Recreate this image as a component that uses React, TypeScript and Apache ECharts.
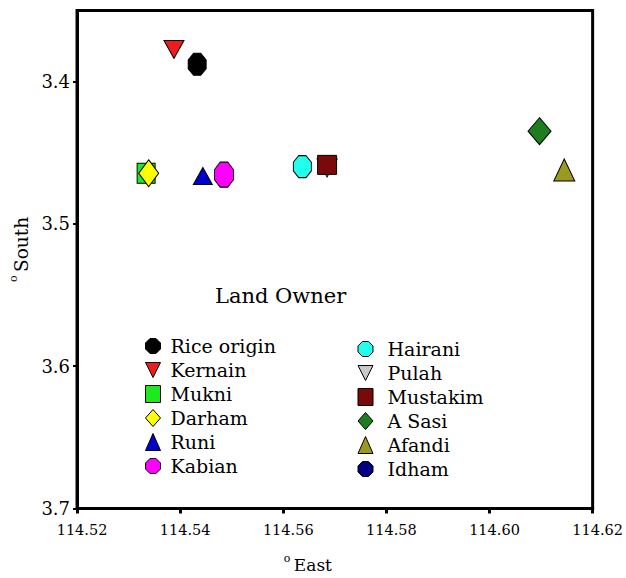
import React, { useEffect, useRef } from 'react';
import * as echarts from 'echarts';

const owners = ['Rice origin', 'Kernain', 'Mukni', 'Darham', 'Runi', 'Kabian', 'Hairani', 'Pulah', 'Mustakim', 'A Sasi', 'Afandi', 'Idham'];
const eastValues = [114.5433, 114.5388, 114.5334, 114.5339, 114.5444, 114.5485, 114.5637, 114.5685, 114.5685, 114.6097, 114.6145, 114.5433];
const southValues = [3.3878, 3.3774, 3.4644, 3.4644, 3.4663, 3.4654, 3.4597, 3.4606, 3.4585, 3.4348, 3.4621, 3.3878];
const xTicks = [114.52, 114.54, 114.56, 114.58, 114.60, 114.62];
const yTicks = [3.4, 3.5, 3.6, 3.7];

const OCT = 'path://M3,0L7,0L10,3L10,7L7,10L3,10L0,7L0,3Z';
const DOWN = 'path://M0,0L10,0L5,10Z';
const symbols = [OCT, DOWN, 'rect', 'diamond', 'triangle', OCT, OCT, DOWN, 'rect', 'diamond', 'triangle', OCT];
const sizes = [[18, 22], [20, 18], [18, 20], [20, 27], [19, 17], [19, 25], [18, 22], [20, 18], [19, 19], [23, 27], [21, 22], [16, 20]];
const colors = ['#000000', '#ee1c1c', '#1fe81f', '#ffff00', '#0000cc', '#ff00ff', '#22ffee', '#c8c8c8', '#7a0a0a', '#1e7d1e', '#9a9a20', '#000080'];

const FONT = 'DejaVu Serif';

export default function App() {
  const ref = useRef<HTMLDivElement>(null);
  useEffect(() => {
    document.body.style.margin = '0';
    if (!ref.current) return;
    const chart = echarts.init(ref.current, undefined, { renderer: 'svg' });
    const legendBase = {
      orient: 'vertical' as const,
      itemWidth: 15,
      itemHeight: 17,
      itemGap: 0,
      padding: 0,
      selectedMode: false,
      itemStyle: { borderColor: '#000', borderWidth: 1 },
    };
    chart.setOption({
      animation: false,
      backgroundColor: '#fff',
      textStyle: { fontFamily: FONT },
      title: {
        text: 'Land Owner',
        left: 215,
        top: 281,
        padding: 0,
        textStyle: { fontFamily: FONT, fontSize: 21, fontWeight: 'normal', color: '#000', lineHeight: 30 },
      },
      grid: {
        left: 67.5, right: 23, top: 10.5, bottom: 67,
        show: true, borderColor: '#000', borderWidth: 3, backgroundColor: 'transparent',
      },
      xAxis: {
        type: 'value',
        min: 114.52,
        max: 114.62,
        name: '{s|o }{n|East}',
        nameLocation: 'middle',
        nameGap: 44,
        nameTextStyle: {
          fontFamily: FONT,
          padding: [0, 54, 0, 0],
          rich: {
            s: { fontFamily: FONT, fontSize: 11, lineHeight: 12, verticalAlign: 'top', color: '#000' },
            n: { fontFamily: FONT, fontSize: 17, lineHeight: 24, color: '#000' },
          },
        },
        axisLine: { show: true, lineStyle: { color: '#000', width: 3 } },
        axisTick: { show: true, customValues: xTicks, length: 5, lineStyle: { color: '#000', width: 3 } },
        axisLabel: {
          customValues: xTicks,
          formatter: (v: number) => v.toFixed(2),
          fontFamily: FONT, fontSize: 14.5, color: '#000', margin: 14,
          padding: [0, 0, 0, 10],
        },
        splitLine: { show: false },
      },
      yAxis: {
        type: 'value',
        inverse: true,
        min: 3.35,
        max: 3.7,
        name: '{s|o }{n|South}',
        nameLocation: 'middle',
        nameGap: 37,
        nameRotate: 90,
        nameTextStyle: {
          fontFamily: FONT,
          padding: [0, 0, 0, 20],
          rich: {
            s: { fontFamily: FONT, fontSize: 11, lineHeight: 12, verticalAlign: 'top', color: '#000' },
            n: { fontFamily: FONT, fontSize: 18.5, lineHeight: 26, color: '#000' },
          },
        },
        axisLine: { show: true, lineStyle: { color: '#000', width: 3 } },
        axisTick: { show: true, customValues: yTicks, length: 4, lineStyle: { color: '#000', width: 2 } },
        axisLabel: {
          customValues: yTicks,
          formatter: (v: number) => v.toFixed(1),
          fontFamily: FONT, fontSize: 18, lineHeight: 22, color: '#000', margin: 7,
          padding: [0, 0, 10, 0],
        },
        splitLine: { show: false },
      },
      legend: [
        {
          ...legendBase,
          data: owners.slice(0, 6),
          left: 145,
          top: 334,
          textStyle: { fontFamily: FONT, fontSize: 19, lineHeight: 24, color: '#000', padding: [0, 0, 0, 5] },
        },
        {
          ...legendBase,
          data: owners.slice(6),
          left: 357.5,
          top: 337,
          textStyle: { fontFamily: FONT, fontSize: 19, lineHeight: 24, color: '#000', padding: [0, 0, 0, 9.5] },
        },
      ],
      series: owners.map((name, i) => ({
        name,
        type: 'scatter',
        data: [[eastValues[i], southValues[i]]],
        symbol: symbols[i],
        symbolSize: sizes[i],
        z: i === 11 ? 1 : 2,
        itemStyle: { color: colors[i], borderColor: '#000', borderWidth: 1, opacity: 1 },
        emphasis: { disabled: true },
      })),
    });
    return () => chart.dispose();
  }, []);
  return <div ref={ref} style={{ width: 626, height: 578 }} />;
}
